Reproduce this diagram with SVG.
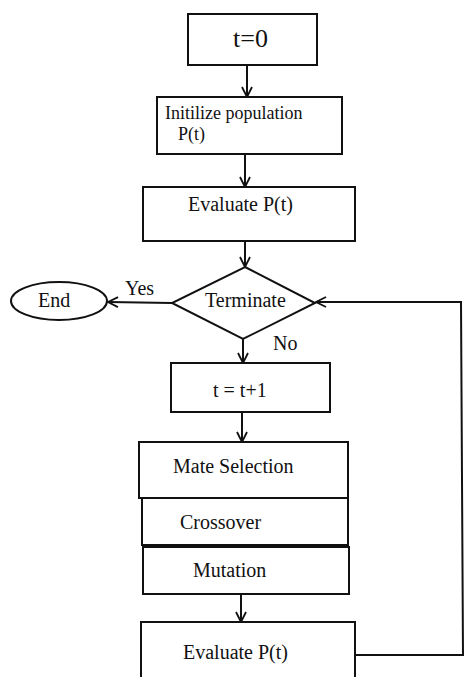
<svg xmlns="http://www.w3.org/2000/svg" width="465" height="677" viewBox="0 0 465 677">
<defs>
<style>
.box{fill:#fff;stroke:#111;stroke-width:2}
.ln{fill:none;stroke:#111;stroke-width:2}
text{font-family:"Liberation Serif","Times New Roman",serif;font-size:20px;fill:#111}
</style>
<marker id="arr" viewBox="0 0 12 12" refX="11" refY="6" markerWidth="12" markerHeight="12" markerUnits="userSpaceOnUse" orient="auto">
<polyline points="1,1 11,6 1,11" fill="none" stroke="#111" stroke-width="1.8"/>
</marker>
</defs>
<rect width="465" height="677" fill="#fff"/>
<g id="connectors">
<line class="ln" x1="247" y1="65" x2="247" y2="97" marker-end="url(#arr)"/>
<line class="ln" x1="245" y1="154" x2="245" y2="187" marker-end="url(#arr)"/>
<line class="ln" x1="245" y1="241" x2="245" y2="267" marker-end="url(#arr)"/>
<line class="ln" x1="172" y1="303" x2="108" y2="302" marker-end="url(#arr)"/>
<line class="ln" x1="243" y1="339" x2="243" y2="363" marker-end="url(#arr)"/>
<line class="ln" x1="242" y1="412" x2="242" y2="442" marker-end="url(#arr)"/>
<line class="ln" x1="241" y1="594" x2="241" y2="622" marker-end="url(#arr)"/>
<polyline class="ln" points="355,655 463,655 461,302 316,302" marker-end="url(#arr)"/>
<text x="125" y="295">Yes</text>
<text x="273" y="350">No</text>
</g>
<g id="n-t0">
<rect class="box" x="188" y="14" width="129" height="51"/>
<text x="233" y="47" style="font-size:26px">t=0</text>
</g>
<g id="n-init">
<rect class="box" x="157" y="97" width="185" height="57"/>
<text x="165" y="119" style="font-size:18px">Initilize population</text>
<text x="178" y="140" style="font-size:18px">P(t)</text>
</g>
<g id="n-eval1">
<rect class="box" x="143" y="187" width="212" height="54"/>
<text x="188" y="211">Evaluate P(t)</text>
</g>
<g id="n-terminate">
<polygon class="box" points="245,267 315,303 243,339 172,303"/>
<text x="205" y="307">Terminate</text>
</g>
<g id="n-end">
<ellipse class="box" cx="59" cy="301" rx="48" ry="19"/>
<text x="38" y="307">End</text>
</g>
<g id="n-inc">
<rect class="box" x="171" y="363" width="159" height="49"/>
<text x="213" y="397">t = t+1</text>
</g>
<g id="n-mate">
<rect class="box" x="139" y="442" width="209" height="56"/>
<text x="173" y="473">Mate Selection</text>
</g>
<g id="n-cross">
<rect class="box" x="142" y="498" width="206" height="47"/>
<text x="180" y="529">Crossover</text>
</g>
<g id="n-mut">
<rect class="box" x="143" y="547" width="206" height="47"/>
<text x="193" y="577">Mutation</text>
</g>
<g id="n-eval2">
<rect class="box" x="141" y="622" width="214" height="70"/>
<text x="183" y="659">Evaluate P(t)</text>
</g>
</svg>
